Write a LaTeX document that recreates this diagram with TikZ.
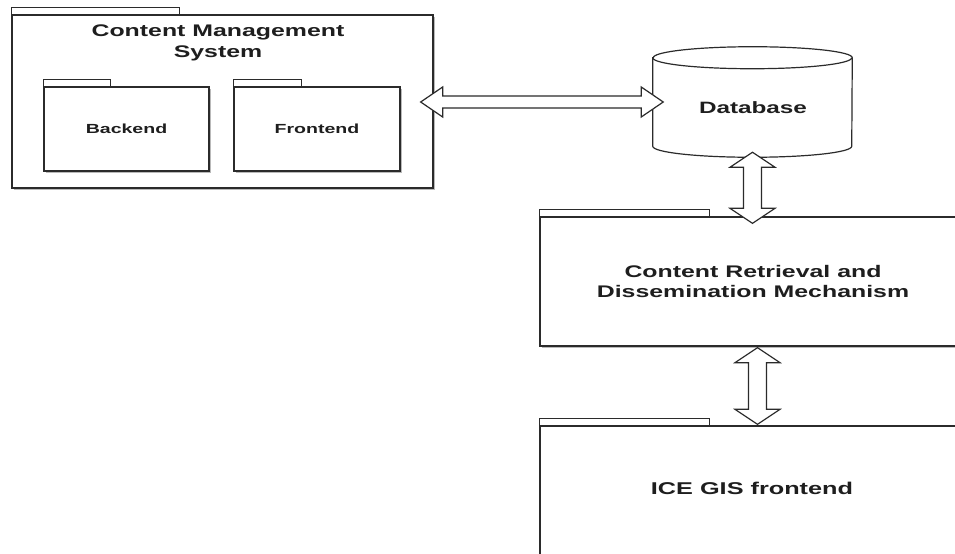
\documentclass[tikz,border=0pt]{standalone}
\usepackage{fontspec}
\setmainfont{Liberation Sans}[FakeStretch=1.48]
\usetikzlibrary{calc,shadows}
\definecolor{linec}{HTML}{2B2B2B}
\definecolor{textc}{HTML}{1E1E1E}
\newcommand\harrowdraw[2]{%
  \draw[bigarrow] (#1) -- ($(#1)+(22,-15)$) -- ($(#1)+(22,-6)$) -- ($(#2)+(-22,-6)$) -- ($(#2)+(-22,-15)$) -- (#2)
    -- ($(#2)+(-22,15)$) -- ($(#2)+(-22,6)$) -- ($(#1)+(22,6)$) -- ($(#1)+(22,15)$) -- cycle;}
\newcommand\varrowdraw[2]{%
  \draw[bigarrow] (#1) -- ($(#1)+(22.5,15)$) -- ($(#1)+(9,15)$) -- ($(#2)+(9,-15)$) -- ($(#2)+(22.5,-15)$) -- (#2)
    -- ($(#2)+(-22.5,-15)$) -- ($(#2)+(-9,-15)$) -- ($(#1)+(-9,15)$) -- ($(#1)+(-22.5,15)$) -- cycle;}
\begin{document}
\begin{tikzpicture}[x=0.75pt,y=-0.75pt,
  pkgbody/.style={draw=linec, fill=white, line width=1pt, inner sep=0pt,
    drop shadow={shadow xshift=1.3pt, shadow yshift=-1.3pt, fill=black!50, opacity=0.55}},
  pkgtab/.style={draw=linec, fill=white, line width=1pt},
  bigarrow/.style={draw=linec, fill=white, line width=0.9pt, line join=miter},
  titlefont/.style={font=\fontsize{12.6}{15.6}\selectfont\bfseries, text=textc, align=center},
  smallfont/.style={font=\fontsize{9.9}{12}\selectfont\bfseries, text=textc}]
\useasboundingbox (0,0) rectangle (955,553);
\clip (0,0) rectangle (955,553);
\fill[white] (0,0) rectangle (955,553);

% Content Management System package
\node[pkgbody, minimum width=421*0.75pt, minimum height=173*0.75pt] (cms) at (222.5,101.5) {};
\draw[pkgtab] (cms.north west) -- ++(0,-7) -- ++(168,0) -- ++(0,7);
\node[titlefont] (cmstitle) at (218,43) {Content Management\\System};

% Backend
\node[pkgbody, smallfont, minimum width=165*0.75pt, minimum height=84*0.75pt] (backend) at (126.5,129) {Backend};
\draw[pkgtab] (backend.north west) -- ++(0,-7) -- ++(67,0) -- ++(0,7);

% Frontend
\node[pkgbody, smallfont, minimum width=166*0.75pt, minimum height=84*0.75pt] (frontend) at (317,129) {Frontend};
\draw[pkgtab] (frontend.north west) -- ++(0,-7) -- ++(68,0) -- ++(0,7);

% Database cylinder
\node[minimum width=199*0.75pt, minimum height=110*0.75pt, inner sep=0pt] (db) at (752.5,102) {};
\draw[draw=linec, fill=white, line width=0.9pt]
  ([yshift=-8.25pt]db.north west) -- ([yshift=8.25pt]db.south west)
  arc[start angle=180, end angle=360, x radius=74.625pt, y radius=8.25pt]
  -- ([yshift=-8.25pt]db.north east)
  arc[start angle=0, end angle=180, x radius=74.625pt, y radius=8.25pt] -- cycle;
\draw[draw=linec, line width=0.9pt] ([yshift=-8.25pt]db.north west)
  arc[start angle=180, end angle=360, x radius=74.625pt, y radius=8.25pt];
\node[titlefont, font=\fontsize{12.3}{15}\selectfont\bfseries] (dblabel) at (753,107.5) {Database};

% Content Retrieval and Dissemination Mechanism
\node[pkgbody, titlefont, minimum width=426*0.75pt, minimum height=129*0.75pt] (crdm) at (753,281.5) {Content Retrieval and\\Dissemination Mechanism};
\draw[pkgtab] (crdm.north west) -- ++(0,-7) -- ++(170,0) -- ++(0,7);

% ICE GIS frontend
\node[pkgbody, minimum width=426*0.75pt, minimum height=130*0.75pt] (ice) at (753,491) {};
\draw[pkgtab] (ice.north west) -- ++(0,-7) -- ++(170,0) -- ++(0,7);
\node[titlefont, font=\fontsize{12.8}{15}\selectfont\bfseries] (icelabel) at (752,488) {ICE GIS frontend};

% connectors
\coordinate (h1) at ($(cms.east)+(-13,0.5)$);
\coordinate (h2) at ($(db.west)+(10.5,0)$);
\coordinate (v1a) at ($(db.south)+(0,-5)$);
\coordinate (v1b) at ($(crdm.north)+(-0.5,7)$);
\coordinate (v2a) at ($(crdm.south)+(4.5,1)$);
\coordinate (v2b) at ($(ice.north)+(4.5,-1)$);
\harrowdraw{h1}{h2}
\varrowdraw{v1a}{v1b}
\varrowdraw{v2a}{v2b}
\end{tikzpicture}
\end{document}
